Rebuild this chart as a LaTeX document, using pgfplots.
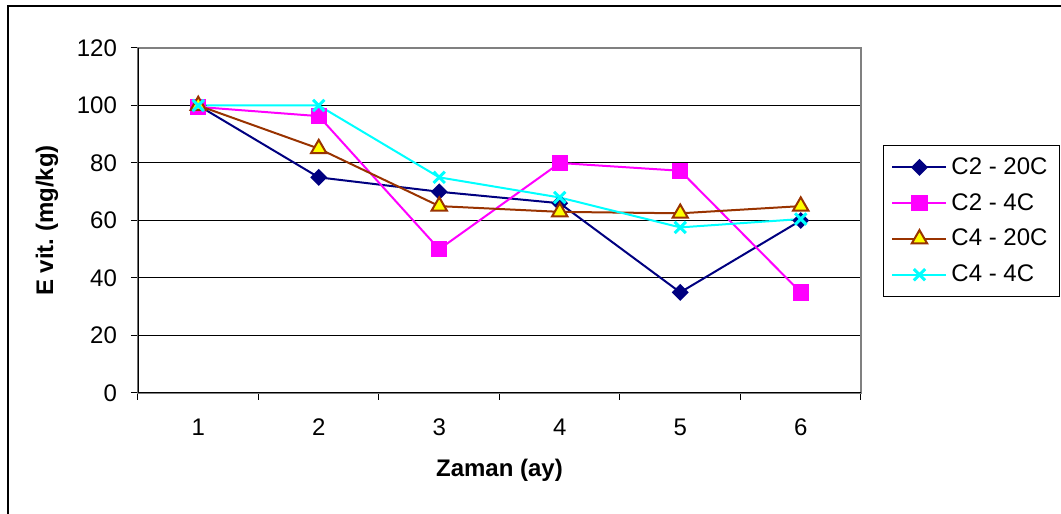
\documentclass[border=0pt]{standalone}
\usepackage{pgfplots}
\pgfplotsset{compat=1.18}
\usepackage{fontspec}
\setmainfont{Liberation Sans}

\definecolor{navyline}{HTML}{000080}
\definecolor{magline}{HTML}{FF00FF}
\definecolor{brownline}{HTML}{993300}
\definecolor{yellowfill}{HTML}{FFFF00}
\definecolor{cyanline}{HTML}{00FFFF}

\newcommand{\chartfont}{\fontsize{12}{14.4}\selectfont}

\begin{document}
\begin{tikzpicture}
\useasboundingbox (0pt,0pt) rectangle (530.5pt,257pt);
% outer chart frame
\draw[black, line width=0.6pt] (4pt,-5pt) rectangle (536pt,254pt);
\begin{axis}[
  at={(69pt,60.5pt)}, anchor=south west,
  scale only axis, width=361.5pt, height=172.5pt,
  xmin=0.5, xmax=6.5, ymin=0, ymax=120,
  ytick={0,20,...,120},
  xtick={0.5,1.5,...,6.5}, xticklabels={},
  extra x ticks={1,2,3,4,5,6},
  extra x tick labels={1,2,3,4,5,6},
  extra x tick style={tick style={draw=none}},
  xtick pos=bottom, ytick pos=left,
  tick align=outside, major tick length=3.5pt,
  tick style={black, line width=0.5pt},
  ymajorgrids, grid style={black, line width=0.5pt},
  axis line style={gray, line width=0.6pt},
  /pgf/number format/assume math mode=true,
  tick label style={font=\chartfont},
  xticklabel style={yshift=-5.75pt},
  yticklabel style={xshift=-3.5pt},
  label style={font=\chartfont\bfseries},
  xlabel={Zaman (ay)},
  ylabel={E vit.\ (mg/kg)},
  xlabel style={at={(axis description cs:0.5,-0.2232)}, anchor=center},
  ylabel style={at={(axis description cs:-0.1259,0.5)}, anchor=center},
  legend style={at={(axis description cs:1.0304,0.7188)}, anchor=north west,
    draw=black, line width=0.5pt, font=\chartfont, row sep=4pt,
    inner xsep=4pt, inner ysep=4pt},
  legend cell align=left,
  legend image code/.code={%
    \draw[mark repeat=2,mark phase=2,#1]
      plot coordinates {(0pt,0pt) (13.5pt,0pt) (27pt,0pt)};},
]
\addplot[color=navyline, line width=1pt, mark=square*, mark size=2.5pt,
  mark options={rotate=45, fill=navyline, solid}]
  coordinates {(1,100) (2,75) (3,70) (4,66) (5,35) (6,60)};
\addlegendentry{C2 - 20C}
\addplot[color=magline, line width=1pt, mark=square*, mark size=3.6pt,
  mark options={fill=magline, solid}]
  coordinates {(1,99.5) (2,96.3) (3,50) (4,80) (5,77.3) (6,35)};
\addlegendentry{C2 - 4C}
\addplot[color=brownline, line width=1pt, mark=triangle*, mark size=4.4pt,
  mark options={fill=yellowfill, draw=brownline, line width=1pt, solid}]
  coordinates {(1,100) (2,85) (3,65) (4,63) (5,62.5) (6,65)};
\addlegendentry{C4 - 20C}
\addplot[color=cyanline, line width=1pt, mark=x, mark size=4pt,
  mark options={line width=1.5pt, solid}]
  coordinates {(1,100) (2,100) (3,75) (4,68) (5,57.6) (6,60.5)};
\addlegendentry{C4 - 4C}
% left and bottom axis lines in black
\draw[black, line width=0.6pt] (rel axis cs:0,1) -- (rel axis cs:0,0) -- (rel axis cs:1,0);
\end{axis}
\end{tikzpicture}
\end{document}
